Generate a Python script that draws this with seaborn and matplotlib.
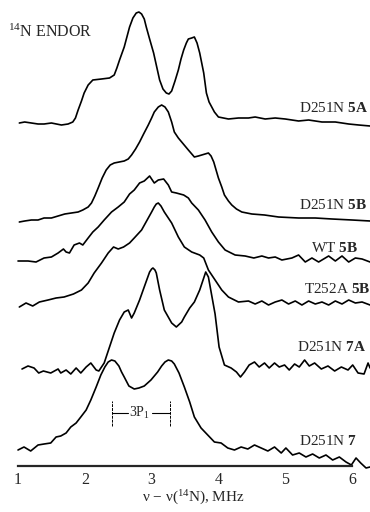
import numpy as np
import pandas as pd
import matplotlib
matplotlib.use('Agg')
import matplotlib.pyplot as plt
import seaborn as sns

# 14N ENDOR spectra (x in MHz, signal in arbitrary units above each baseline)
names = ['D251N 5A', 'D251N 5B', 'WT 5B', 'T252A 5B', 'D251N 7A', 'D251N 7']
bold_parts = ['5A', '5B', '5B', '5B', '7A', '7']

x_5a = [1.02, 1.1, 1.2, 1.3, 1.39, 1.5, 1.65, 1.75, 1.82, 1.86, 1.90, 1.95, 1.99, 2.05, 2.12, 2.25,
        2.37, 2.44, 2.48, 2.52, 2.59, 2.63, 2.67, 2.72, 2.77, 2.81, 2.85, 2.89, 2.92, 2.97, 3.03,
        3.08, 3.12, 3.17, 3.22, 3.26, 3.30, 3.35, 3.40, 3.44, 3.48, 3.52, 3.55, 3.60, 3.64, 3.68,
        3.72, 3.75, 3.78, 3.82, 3.86, 3.90, 3.94, 4.0, 4.15, 4.3, 4.45, 4.55, 4.7, 4.85, 5.0, 5.2,
        5.35, 5.55, 5.75, 5.95, 6.1, 6.27]
y_5a = [0, 1, 0, -1, -1, 0, -2, -1, 1, 5, 13, 22, 30, 38, 43, 44,
        45, 48, 55, 63, 76, 86, 96, 105, 110, 111, 109, 104, 96, 84, 70,
        55, 43, 34, 30, 29, 32, 42, 53, 64, 73, 80, 84, 85, 86, 80,
        70, 60, 50, 30, 21, 16, 11, 6, 4, 5, 5, 6, 4, 5, 4, 2,
        3, 1, 1, -1, -2, -3]

x_5b = [1.02, 1.1, 1.2, 1.3, 1.39, 1.5, 1.6, 1.7, 1.8, 1.9, 1.97, 2.05, 2.1, 2.15, 2.2, 2.26, 2.32,
        2.38, 2.44, 2.59, 2.65, 2.7, 2.76, 2.82, 2.88, 2.95, 3.0, 3.04, 3.10, 3.15, 3.20, 3.25,
        3.30, 3.34, 3.40, 3.45, 3.55, 3.64, 3.70, 3.75, 3.80, 3.85, 3.89, 3.93, 4.0, 4.05, 4.09,
        4.15, 4.2, 4.27, 4.35, 4.5, 4.69, 4.9, 5.2, 5.45, 5.7, 6.0, 6.27]
y_5b = [0, 1, 2, 2, 4, 4, 6, 8, 9, 10, 12, 15, 19, 26, 34, 44, 52,
        57, 59, 61, 63, 67, 73, 80, 88, 97, 104, 110, 115, 117, 115, 110,
        100, 90, 84, 80, 72, 65, 66, 67, 68, 69, 66, 60, 44, 35, 27,
        21, 17, 13, 10, 8, 7, 5, 4, 4, 3, 2, 1]

x_wt = [1.0, 1.15, 1.27, 1.39, 1.5, 1.6, 1.68, 1.72, 1.77, 1.84, 1.92, 1.97, 2.05, 2.12, 2.2, 2.29,
        2.4, 2.5, 2.59, 2.67, 2.74, 2.82, 2.89, 2.97, 3.04, 3.1, 3.18, 3.25, 3.3, 3.37, 3.48, 3.55,
        3.6, 3.7, 3.8, 3.9, 4.0, 4.1, 4.25, 4.4, 4.53, 4.65, 4.75, 4.85, 4.95, 5.1, 5.2, 5.3, 5.4,
        5.5, 5.65, 5.75, 5.85, 5.95, 6.05, 6.15, 6.27]
y_wt = [0, 0, -1, 3, 4, 8, 12, 9, 8, 16, 18, 16, 23, 29, 34, 41,
        49, 54, 59, 67, 71, 78, 80, 85, 78, 81, 82, 76, 69, 68, 66, 63,
        58, 51, 41, 29, 19, 11, 6, 5, 3, 5, 3, 4, 1, 3, 6, -1, 3,
        -1, 5, 0, 5, -1, 3, 2, -1]

x_t252a = [1.02, 1.12, 1.22, 1.32, 1.45, 1.57, 1.69, 1.83, 1.95, 2.05, 2.14, 2.25, 2.35, 2.43, 2.5,
           2.58, 2.67, 2.74, 2.85, 2.95, 3.0, 3.04, 3.07, 3.1, 3.14, 3.19, 3.3, 3.4, 3.49, 3.6, 3.72,
           3.78, 3.85, 3.95, 4.05, 4.15, 4.3, 4.45, 4.55, 4.65, 4.75, 4.85, 4.95, 5.05, 5.15, 5.25,
           5.35, 5.45, 5.55, 5.65, 5.75, 5.85, 5.95, 6.05, 6.15, 6.27]
y_t252a = [-2, 2, -1, 3, 5, 7, 8, 11, 15, 22, 32, 42, 52, 58, 56,
           58, 62, 67, 75, 87, 93, 98, 101, 102, 99, 93, 82, 68, 58, 53, 50,
           47, 35, 25, 15, 8, 3, 4, 1, 4, 0, 3, 5, 1, 4, 0,
           4, 1, 3, 0, 4, 1, 5, 2, 3, 0]

x_7a = [1.06, 1.15, 1.24, 1.31, 1.38, 1.49, 1.6, 1.64, 1.72, 1.79, 1.87, 1.94, 2.02, 2.09, 2.17,
        2.21, 2.29, 2.32, 2.37, 2.44, 2.52, 2.59, 2.65, 2.7, 2.74, 2.82, 2.9, 2.97, 3.0, 3.02,
        3.05, 3.07, 3.12, 3.19, 3.3, 3.37, 3.45, 3.49, 3.57, 3.64, 3.72, 3.78, 3.81, 3.85, 3.95,
        4.01, 4.09, 4.19, 4.27, 4.33, 4.39, 4.46, 4.54, 4.61, 4.69, 4.76, 4.84, 4.91, 4.99, 5.06,
        5.14, 5.21, 5.29, 5.36, 5.44, 5.54, 5.64, 5.74, 5.84, 5.94, 6.01, 6.09, 6.18, 6.24, 6.27]
y_7a = [1, 4, 2, -3, -1, -3, 1, -3, 0, -4, 2, -3, 3, 7, 0,
        -1, 7, 13, 23, 37, 50, 58, 60, 52, 57, 70, 85, 98, 101, 102,
        100, 97, 80, 60, 47, 43, 48, 53, 62, 68, 80, 92, 98, 93, 56,
        23, 5, 2, -2, -7, -2, 5, 8, 3, 7, 2, 7, 3, 5, 0,
        6, 3, 10, 4, 7, 1, 4, -1, 3, 0, 5, -3, -4, 7, 2]

x_7 = [1.0, 1.09, 1.19, 1.3, 1.39, 1.49, 1.57, 1.64, 1.72, 1.79, 1.87, 1.94, 2.02, 2.09, 2.17,
       2.24, 2.30, 2.35, 2.40, 2.45, 2.51, 2.55, 2.59, 2.66, 2.74, 2.81, 2.89, 2.99, 3.09, 3.15,
       3.20, 3.25, 3.30, 3.34, 3.41, 3.49, 3.57, 3.64, 3.74, 3.84, 3.94, 4.04, 4.14, 4.24, 4.34,
       4.44, 4.54, 4.64, 4.74, 4.84, 4.94, 5.01, 5.11, 5.21, 5.31, 5.41, 5.51, 5.61, 5.71, 5.81,
       5.91, 5.99, 6.06, 6.13, 6.21, 6.27]
y_7 = [0, 3, -1, 5, 6, 7, 13, 14, 17, 23, 27, 33, 40, 50, 63,
       75, 83, 88, 90, 89, 84, 78, 73, 64, 61, 62, 64, 70, 78, 84,
       88, 90, 89, 86, 77, 63, 48, 33, 22, 15, 8, 7, 2, 0, 3,
       1, 5, 2, -1, 3, -3, 2, -5, -3, -7, -4, -8, -5, -10, -7,
       -12, -15, -8, -13, -18, -17]

# baseline of each spectrum in the stack
offsets = [343, 244, 205, 161, 96, 16]
# label placement (right edge in MHz, height above baseline)
label_x = [6.24, 6.22, 6.09, 6.28, 6.22, 6.07]
label_dy = [15, 17, 13, 16, 23, 9]
# the 3P1 splitting marked on D251N 7
p1_span = [2.40, 3.27]

xs = [x_5a, x_5b, x_wt, x_t252a, x_7a, x_7]
ys = [y_5a, y_5b, y_wt, y_t252a, y_7a, y_7]
frames = []
for name, x, y, off in zip(names, xs, ys, offsets):
    frames.append(pd.DataFrame({'mhz': x, 'signal': np.array(y) + off, 'sample': name}))
df = pd.concat(frames, ignore_index=True)

sns.set_style('white')
plt.rcParams['font.family'] = ['Liberation Serif', 'DejaVu Serif']
plt.rcParams['mathtext.fontset'] = 'custom'
plt.rcParams['mathtext.rm'] = 'Liberation Serif'
plt.rcParams['mathtext.it'] = 'Liberation Serif:italic'
plt.rcParams['mathtext.bf'] = 'Liberation Serif:bold'

fig = plt.figure(figsize=(3.7, 5.12), dpi=100)
ax = fig.add_axes([16 / 370, 46 / 512, 355.4 / 370, 466 / 512])

sns.lineplot(data=df, x='mhz', y='signal', units='sample', estimator=None, sort=False,
             color='black', lw=1.2, ax=ax, legend=False)
for line in ax.lines:
    line.set_clip_on(False)
    line.set_solid_joinstyle('round')

for name, bold, lx, dy, off in zip(names, bold_parts, label_x, label_dy, offsets):
    plain = name[:-len(bold)]
    ax.text(lx, off + dy, plain + r'$\mathbf{' + bold + '}$', ha='right', va='center',
            fontsize=11, clip_on=False)

# 3P1 bracket
base7 = offsets[-1]
ax.plot([p1_span[0]] * 2, [base7 + 24, base7 + 49], color='black', lw=0.7, ls=(0, (3, 1)))
ax.plot([p1_span[1]] * 2, [base7 + 24, base7 + 49], color='black', lw=0.7, ls=(0, (3, 1)))
mid = (p1_span[0] + p1_span[1]) / 2
ax.plot([p1_span[0], mid - 0.19], [base7 + 37] * 2, color='black', lw=0.8)
ax.plot([mid + 0.17, p1_span[1]], [base7 + 37] * 2, color='black', lw=0.8)
ax.text(mid - 0.01, base7 + 37, r'3P$_1$', ha='center', va='center', fontsize=10)

ax.set_xlim(0.97, 6.29)
ax.set_ylim(0, 466)
ax.set_xticks([1, 2, 3, 4, 5, 6])
ax.set_yticks([])
ax.set_xlabel('ν − ν($^{14}$N), MHz', fontsize=11, labelpad=1)
ax.set_ylabel('')
for side in ['left', 'right', 'top']:
    ax.spines[side].set_visible(False)
ax.spines['bottom'].set_bounds(1, 6)
ax.spines['bottom'].set_linewidth(1.6)
ax.tick_params(axis='x', direction='inout', length=4, width=1, pad=2, labelsize=11.5)
ax.patch.set_alpha(0)

fig.text(8 / 370, 1 - 32 / 512, r'$^{14}$N ENDOR', ha='left', va='center', fontsize=11.5)

fig.savefig('out.png', dpi=100)
